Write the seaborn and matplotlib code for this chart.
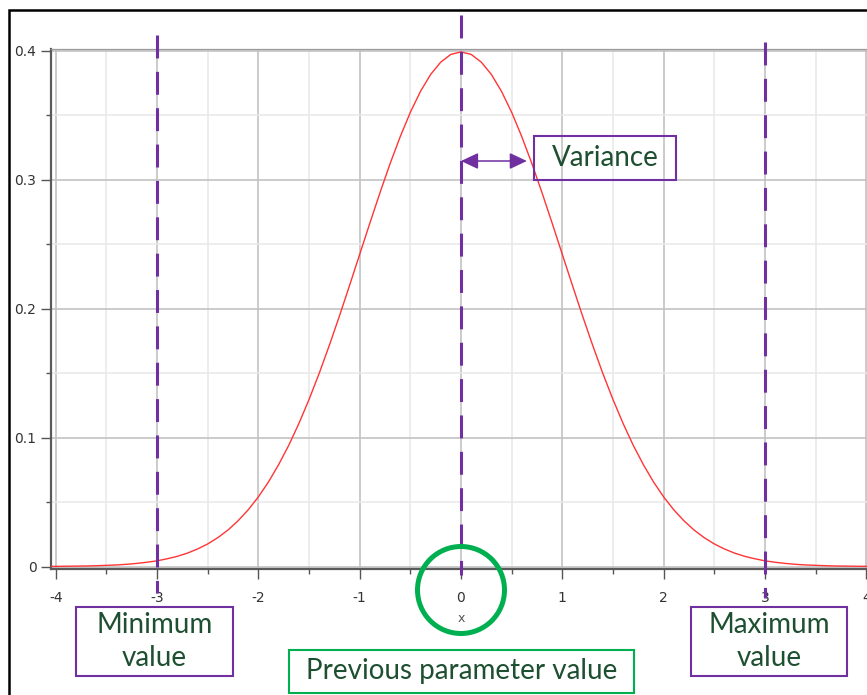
import matplotlib
matplotlib.use("Agg")
import matplotlib.pyplot as plt
import seaborn as sns
from matplotlib.patches import Rectangle, Circle
from matplotlib.transforms import IdentityTransform, blended_transform_factory
from matplotlib.ticker import FixedLocator, MultipleLocator

# Density of the parameter, sampled every 0.1 along x
x_values = [-4.2, -4.1, -4.0, -3.9, -3.8, -3.7, -3.6, -3.5, -3.4, -3.3, -3.2,
            -3.1, -3.0, -2.9, -2.8, -2.7, -2.6, -2.5, -2.4, -2.3, -2.2, -2.1,
            -2.0, -1.9, -1.8, -1.7, -1.6, -1.5, -1.4, -1.3, -1.2, -1.1, -1.0,
            -0.9, -0.8, -0.7, -0.6, -0.5, -0.4, -0.3, -0.2, -0.1, 0.0,
            0.1, 0.2, 0.3, 0.4, 0.5, 0.6, 0.7, 0.8, 0.9, 1.0, 1.1, 1.2,
            1.3, 1.4, 1.5, 1.6, 1.7, 1.8, 1.9, 2.0, 2.1, 2.2, 2.3, 2.4,
            2.5, 2.6, 2.7, 2.8, 2.9, 3.0, 3.1, 3.2, 3.3, 3.4, 3.5, 3.6,
            3.7, 3.8, 3.9, 4.0, 4.1, 4.2]
density = [0.0001, 0.0001, 0.0001, 0.0002, 0.0003, 0.0004, 0.0006, 0.0009,
           0.0012, 0.0017, 0.0024, 0.0033, 0.0044, 0.0060, 0.0079, 0.0104,
           0.0136, 0.0175, 0.0224, 0.0283, 0.0355, 0.0440, 0.0540, 0.0656,
           0.0790, 0.0940, 0.1109, 0.1295, 0.1497, 0.1714, 0.1942, 0.2179,
           0.2420, 0.2661, 0.2897, 0.3123, 0.3332, 0.3521, 0.3683, 0.3814,
           0.3910, 0.3970, 0.3989,
           0.3970, 0.3910, 0.3814, 0.3683, 0.3521, 0.3332, 0.3123, 0.2897,
           0.2661, 0.2420, 0.2179, 0.1942, 0.1714, 0.1497, 0.1295, 0.1109,
           0.0940, 0.0790, 0.0656, 0.0540, 0.0440, 0.0355, 0.0283, 0.0224,
           0.0175, 0.0136, 0.0104, 0.0079, 0.0060, 0.0044, 0.0033, 0.0024,
           0.0017, 0.0012, 0.0009, 0.0006, 0.0004, 0.0003, 0.0002, 0.0001,
           0.0001, 0.0001]

x_ticks = [-4, -3, -2, -1, 0, 1, 2, 3, 4]
x_tick_labels = ["-4", "-3", "-2", "-1", "0", "1", "2", "3", "4"]
y_ticks = [0.0, 0.1, 0.2, 0.3, 0.4]
y_tick_labels = ["0", "0.1", "0.2", "0.3", "0.4"]

minimum_value = -3
previous_value = 0
maximum_value = 3
variance_arrow = 0.65

PURPLE = "#7030A0"
GREEN = "#00B050"
TEXT_GREEN = "#1D4F30"
CURVE_RED = "#FF3535"

W, H = 867, 695
sns.set_style("white")
plt.rcParams["font.family"] = ["DejaVu Sans"]

fig = plt.figure(figsize=(W / 100, H / 100), dpi=100)

# axes frame in pixels (left, top, right, bottom)
ax_l, ax_t, ax_r, ax_b = 51, 48.5, 900, 569
ax = fig.add_axes([ax_l / W, (H - ax_b) / H, (ax_r - ax_l) / W, (ax_b - ax_t) / H])

px_per_x = 101.3
x0_px = 461
px_per_y = 1290
y0_px = 566.5
ax.set_xlim(-(x0_px - ax_l) / px_per_x, (ax_r - x0_px) / px_per_x)
ax.set_ylim(-(ax_b - y0_px) / px_per_y, (y0_px - ax_t) / px_per_y)

sns.lineplot(x=x_values, y=density, ax=ax, color=CURVE_RED, linewidth=1.0,
             zorder=3, sort=False)

# grid and ticks
ax.xaxis.set_major_locator(FixedLocator(x_ticks))
ax.xaxis.set_minor_locator(MultipleLocator(0.5))
ax.yaxis.set_major_locator(FixedLocator(y_ticks))
ax.yaxis.set_minor_locator(MultipleLocator(0.05))
ax.set_xticklabels(x_tick_labels)
ax.set_yticklabels(y_tick_labels)
ax.set_axisbelow(True)
ax.grid(which="major", color="#c2c2c2", linewidth=1.2)
ax.grid(which="minor", color="#e8e8e8", linewidth=1.1)

ax.tick_params(axis="both", which="major", direction="out", length=7.5,
               width=1.0, color="#555555", labelsize=10, labelcolor="#333333")
ax.tick_params(axis="both", which="minor", direction="out", length=3.8,
               width=1.0, color="#555555")
ax.tick_params(axis="y", which="major", pad=3)
ax.tick_params(axis="x", which="major", pad=8.5)
ax.tick_params(axis="both", which="both", left=True, bottom=True)

for side in ("left", "bottom"):
    ax.spines[side].set_color("#5a5a5a")
    ax.spines[side].set_linewidth(1.6)
ax.spines["top"].set_color("#9a9a9a")
ax.spines["top"].set_linewidth(0.9)
ax.spines["right"].set_visible(False)

ax.set_xlabel("x", fontsize=9, color="#555555")
ax.xaxis.label.set_va("center")
ax.xaxis.set_label_coords((x0_px - ax_l) / (ax_r - ax_l), -(619 - ax_b) / (ax_b - ax_t))

# dashed markers for minimum, previous and maximum values
xpix = blended_transform_factory(ax.transData, IdentityTransform())
markers = [(minimum_value, 35, 593), (previous_value, 15, 575), (maximum_value, 42, 598)]
lw_dash = 2.2
for xv, top_px, bot_px in markers:
    ax.plot([xv, xv], [H - top_px, H - bot_px], transform=xpix, color=PURPLE,
            linewidth=lw_dash, linestyle=(0, (7.5, 4.4)), clip_on=False, zorder=5,
            solid_capstyle="butt", dash_capstyle="butt")

# variance arrow
ax.annotate("", xy=(variance_arrow, H - 161), xytext=(previous_value, H - 161),
            xycoords=xpix, textcoords=xpix,
            arrowprops=dict(arrowstyle="<|-|>,head_length=0.7,head_width=0.33",
                            color=PURPLE, lw=1.1, mutation_scale=15,
                            shrinkA=0, shrinkB=0), zorder=6)

# outer frame
fig.add_artist(Rectangle((9.3, -100), 2000, H - 10.4 + 100, transform=IdentityTransform(),
                         fill=False, edgecolor="black", linewidth=1.8, clip_on=False))

# circle around the previous value on the axis
cx = ax.transData.transform((previous_value, 0))[0]
fig.add_artist(Circle((cx, H - 590), 43.5, transform=IdentityTransform(), fill=False,
                      edgecolor=GREEN, linewidth=3.6, clip_on=False))


def label_box(x0, y0, x1, y1, edge, text, size=20, linespacing=1.0):
    fig.add_artist(Rectangle((x0, H - y1), x1 - x0, y1 - y0, transform=IdentityTransform(),
                             fill=False, edgecolor=edge, linewidth=1.5, clip_on=False))
    fig.text((x0 + x1) / 2, H - (y0 + y1) / 2, text, transform=IdentityTransform(),
             ha="center", va="center", fontsize=size, color=TEXT_GREEN,
             family=["Lato", "DejaVu Sans"], linespacing=linespacing)


label_box(534, 136, 676, 180, PURPLE, "Variance")
label_box(76, 607, 233, 676, PURPLE, "Minimum\nvalue", linespacing=1.38)
label_box(691, 607, 847, 676, PURPLE, "Maximum\nvalue", linespacing=1.38)
label_box(289, 650, 634, 693, GREEN, "Previous parameter value")

fig.savefig("out.png", dpi=100)
